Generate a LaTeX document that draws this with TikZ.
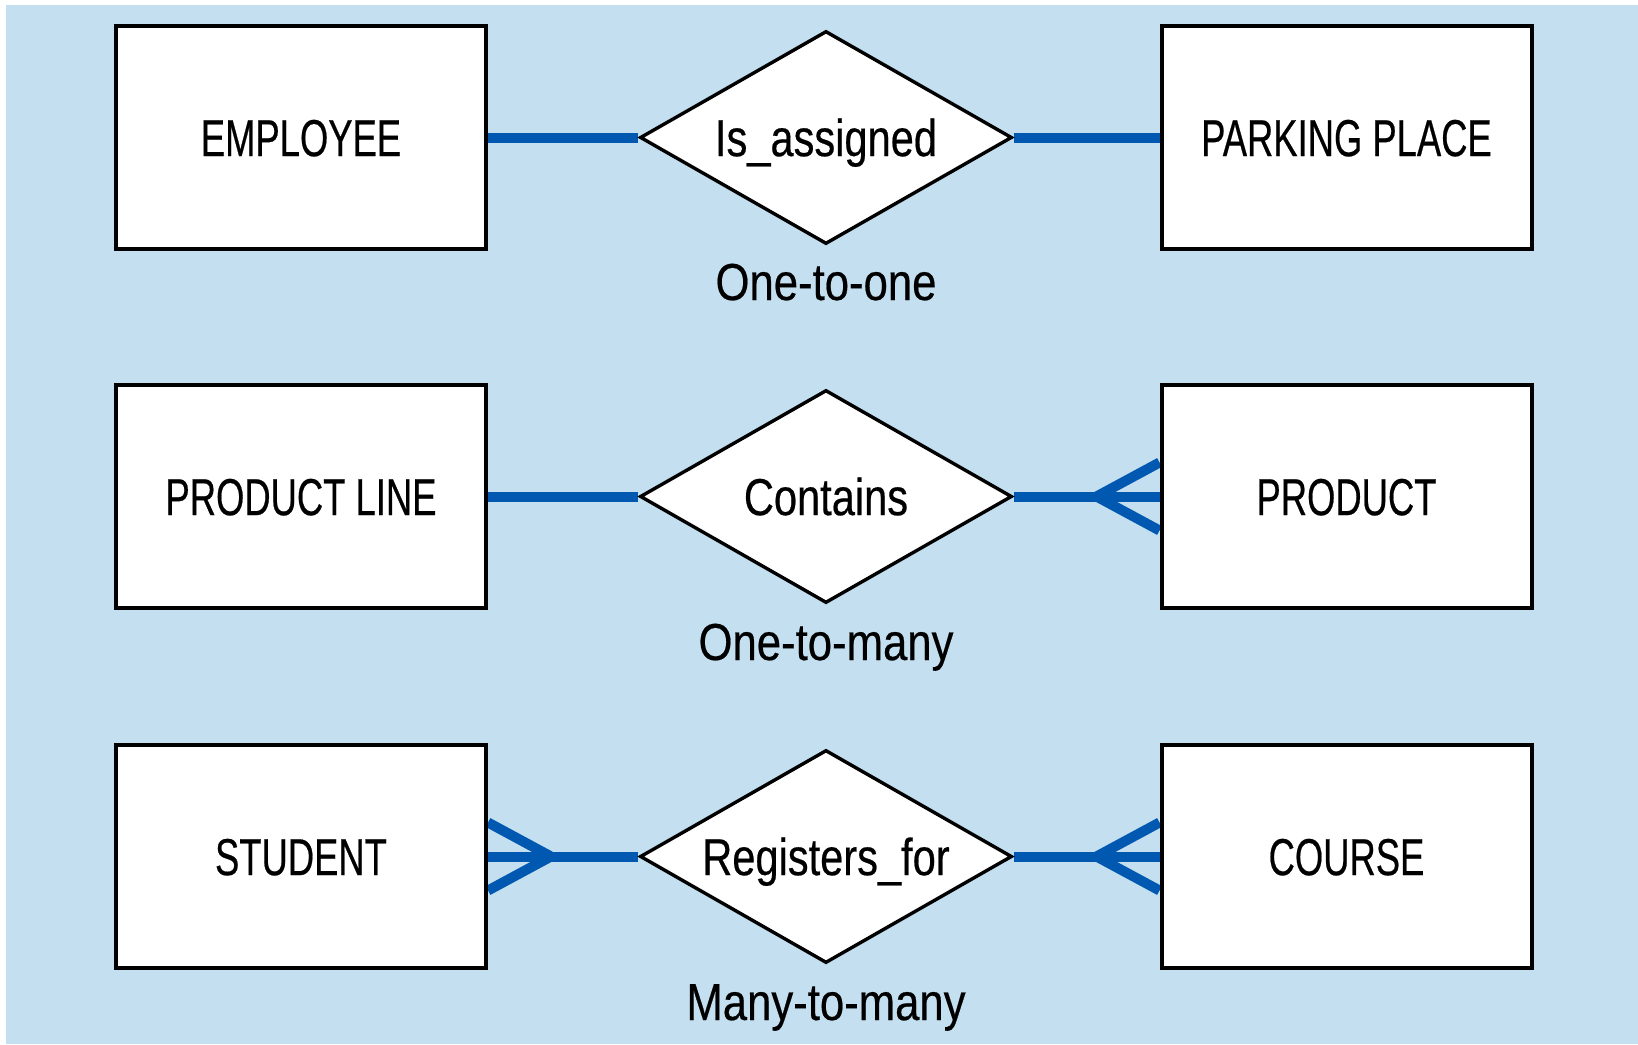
\documentclass[tikz,border=0pt]{standalone}
\usepackage{fontspec}
\setmainfont{Liberation Sans}
% narrow faces for the labels
\newfontfamily\entityfont[FakeStretch=0.70,FakeBold=0.4]{Liberation Sans}
\newfontfamily\relfont[FakeStretch=0.80,FakeBold=0.4]{Liberation Sans}
\newfontfamily\kindfont[FakeStretch=0.84,FakeBold=0.4]{Liberation Sans}
\usetikzlibrary{shapes.geometric,calc,backgrounds}
\definecolor{erblue}{RGB}{0,88,176}
\definecolor{panel}{RGB}{196,223,239}
\tikzset{
every picture/.style={
line width=1pt
}}

\begin{document}
\begin{tikzpicture}[x=0.5pt, y=-0.5pt,
entity/.style = {rectangle, draw=black, line width=2pt, fill=white,
  minimum width=185pt, minimum height=111.5pt, inner sep=0pt,
  font=\entityfont\fontsize{26}{26}\selectfont, text height=18.6pt, text depth=0pt},
relation/.style = {diamond, draw=black, line width=1.7pt, fill=white,
  minimum width=186pt, minimum height=106.5pt, aspect=1.74, inner sep=0pt,
  font=\relfont\fontsize{26}{26}\selectfont, text height=18.6pt, text depth=0pt},
kind/.style = {font=\kindfont\fontsize{26}{26}\selectfont, anchor=base, inner sep=0pt},
link/.style = {draw=erblue, line width=5pt}]
\useasboundingbox (0,0) rectangle (1638,1044);

\node[entity] at (301,137.5) (employee) {EMPLOYEE};
\node[relation] at (826,137.5) (assigned) {Is\_assigned};
\node[entity] at (1346.5,137.5) (parking) {PARKING PLACE};
\node[kind] at (826,300) (oneone) {One-to-one};

\node[entity] at (301,496.5) (line) {PRODUCT LINE};
\node[relation] at (826,496.5) (contains) {Contains};
\node[entity] at (1346.5,496.5) (product) {PRODUCT};
\node[kind] at (826,660) (onemany) {One-to-many};

\node[entity] at (301,856.5) (student) {STUDENT};
\node[relation] at (826,856.5) (registers) {Registers\_for};
\node[entity] at (1346.5,856.5) (course) {COURSE};
\node[kind] at (826,1020) (manymany) {Many-to-many};

\begin{scope}[on background layer]
\fill[white] (0,0) rectangle (1638,1044);
\fill[panel] (6,5) rectangle (1638,1044);

\draw[link] (employee) -- (assigned);
\draw[link] (assigned) -- (parking);

\draw[link] (line) -- (contains);
\draw[link] (contains) -- (product);
% crow's feet on the many side
\draw[link] ($(product.west)+(0,-34)$) -- ($(product.west)+(-63,0)$) -- ($(product.west)+(0,34)$);

\draw[link] (student) -- (registers);
\draw[link] (registers) -- (course);
\draw[link] ($(student.east)+(0,-34)$) -- ($(student.east)+(63,0)$) -- ($(student.east)+(0,34)$);
\draw[link] ($(course.west)+(0,-34)$) -- ($(course.west)+(-63,0)$) -- ($(course.west)+(0,34)$);
\end{scope}
\end{tikzpicture}
\end{document}
